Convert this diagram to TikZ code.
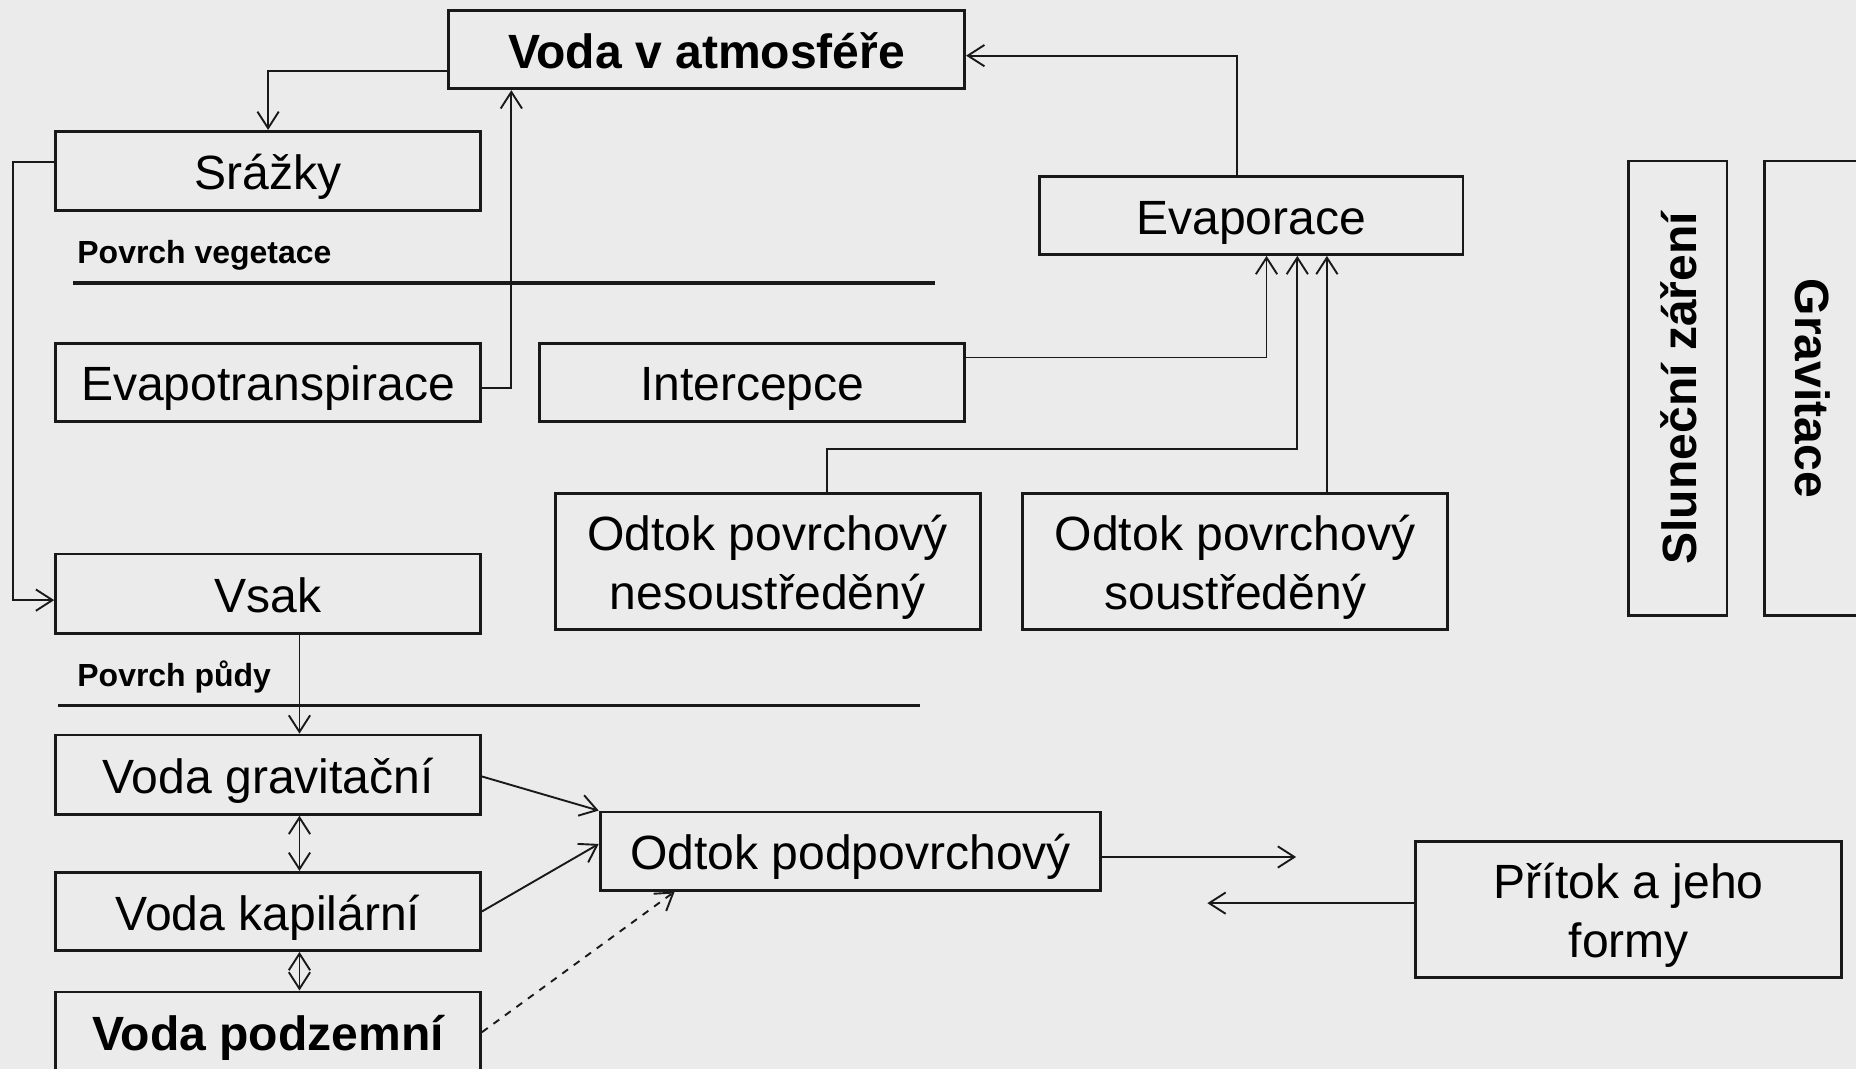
\documentclass[tikz,border=0pt]{standalone}
\usepackage{fontspec}
\setmainfont{Liberation Sans}
\usetikzlibrary{arrows.meta,calc}
\definecolor{bg}{RGB}{235,235,235}
\definecolor{ln}{RGB}{25,25,25}
\newcommand{\twolines}[2]{\begin{tabular}[t]{@{}c@{}}#1\\#2\end{tabular}}
\begin{document}
\begin{tikzpicture}[x=0.5pt,y=-0.5pt,
  box/.style={draw=ln, line width=1.2pt, inner sep=0pt, font=\fontsize{20.3pt}{25pt}\selectfont, text=black, minimum width=179.5pt, minimum height=33pt, text height=15.7pt, text depth=0pt},
  boldbox/.style={box, font=\bfseries\fontsize{20.3pt}{25pt}\selectfont},
  twobox/.style={box, minimum height=57.5pt, text height=20pt, text depth=29.6pt},
  conn/.style={draw=ln, line width=0.8pt},
  arr/.style={conn, -{Straight Barb[length=7pt,width=9pt]}},
  darr/.style={conn, {Straight Barb[length=7pt,width=9pt]}-{Straight Barb[length=7pt,width=9pt]}},
  surface/.style={font=\bfseries\fontsize{13.5pt}{16pt}\selectfont, anchor=base west, inner sep=0pt},
  ground/.style={draw=ln, line width=1.4pt}
]
\fill[bg] (0,0) rectangle (1568,903);
\useasboundingbox (0,0) rectangle (1568,903);

% boxes
\node[boldbox, minimum width=218pt] (atm) at (597,42) {Voda v atmosféře};
\node[box, minimum height=33.5pt] (srazky) at (226.5,144.5) {Srážky};
\node[box] (evapotr) at (226.5,323) {Evapotranspirace};
\node[box] (interc) at (635.5,323) {Intercepce};
\node[box, minimum width=179pt] (evap) at (1057,182) {Evaporace};
\node[twobox] (nesous) at (648.5,474.5) {\twolines{Odtok povrchový}{nesoustředěný}};
\node[twobox] (sous) at (1043.5,474.5) {\twolines{Odtok povrchový}{soustředěný}};
\node[boldbox, rotate=90, minimum width=192pt, minimum height=41.5pt] (slunce) at (1417.5,328) {Sluneční záření};
\node[boldbox, rotate=-90, minimum width=192pt, minimum height=41.5pt] (grav) at (1532.5,328) {Gravitace};
\node[box, minimum height=33.5pt] (vsak) at (226.5,501.5) {Vsak};
\node[box, minimum height=33.5pt] (vgrav) at (226.5,654.5) {Voda gravitační};
\node[box] (vkap) at (226.5,770) {Voda kapilární};
\node[boldbox, minimum height=33.5pt] (vpodz) at (226.5,871.5) {Voda podzemní};
\node[box, minimum width=211.5pt] (podpovr) at (718.5,719) {Odtok podpovrchový};
\node[twobox, minimum width=180pt] (pritok) at (1376,768.5) {\twolines{Přítok a jeho}{formy}};

% surfaces
\node[surface] (pveg) at (65,222.5) {Povrch vegetace};
\draw[ground] (62,239) -- (790,239);
\node[surface] (ppudy) at (65,580) {Povrch půdy};
\draw[ground] (49,596) -- (777,596);

% free ends
\coordinate (outR) at (1095,724);
\coordinate (outL) at (1020,763);

% connectors
\draw[arr] (atm.west |- 0,60) -| (srazky.north);
\draw[arr] (evapotr.east |- 0,328) -| (atm.south -| 432,0);
\draw[arr] (evap.north -| 1045,0) |- (atm.east |- 0,47);
\draw[arr] (srazky.west |- 0,137) -- (11,137) -- (11,507) -- (vsak.west |- 0,507);
\draw[arr] (interc.east |- 0,302) -| (evap.south -| 1070,0);
\draw[arr] (nesous.north -| 699,0) |- (1096,379) -- (evap.south -| 1096,0);
\draw[arr] (sous.north -| 1121,0) -- (evap.south -| 1121,0);
\draw[arr] (vsak.south -| 253,0) -- (vgrav.north -| 253,0);
\draw[darr] (vgrav.south -| 253,0) -- (vkap.north -| 253,0);
\draw[darr] (vkap.south -| 253,0) -- (vpodz.north -| 253,0);
\draw[arr] (vgrav.east |- 0,656) -- (podpovr.north west);
\draw[arr] (vkap.east |- 0,770) -- (podpovr.west |- 0,713);
\draw[arr, dashed] (vpodz.east |- 0,872) -- (podpovr.south -| 570,0);
\draw[arr] (podpovr.east |- 0,724) -- (outR);
\draw[arr] (pritok.west |- 0,763) -- (outL);
\end{tikzpicture}
\end{document}
